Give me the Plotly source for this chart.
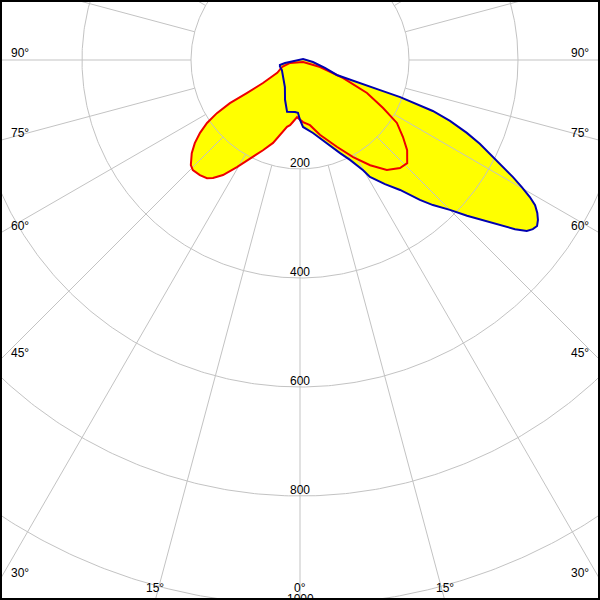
import numpy as np
import plotly.graph_objects as go

# Luminous intensity distribution (cd/klm), gamma angle in degrees (0 = straight down)
blue_gamma = [-70.7, -76.0, -78.7, -78.7, -90.0, 108.4, 81.3, 72.3, 67.9, 69.2, 69.4, 69.7, 69.4, 69.0,
              67.9, 66.4, 65.0, 63.3, 62.4, 61.2, 60.2, 59.2, 58.3, 57.2, 56.1, 55.0, 54.0, 53.0, 51.8,
              50.5, 48.8, 47.0, 45.0, 42.5, 40.6, 39.2, 37.6, 34.4, 30.9, 29.8, 26.6, 23.3, 18.0, 10.1,
              2.6, 0.0, -2.2, -5.5, -14.0, -20.6, -29.1, -45.0, -60.9, -70.7]
blue_cd = [39, 38, 28, 19, 6, 6, 24, 48, 73, 114, 157, 196, 235, 261, 297, 334, 364, 396, 420, 446,
           469, 491, 507, 518, 526, 531, 528, 521, 502, 476, 446, 419, 389, 361, 338, 320, 301, 276,
           250, 233, 205, 186, 160, 136, 123, 110, 97, 96, 98, 78, 57, 44, 38, 39]

red_gamma = [-68.7, -73.3, 56.3, 70.7, 67.3, 63.8, 60.0, 57.0, 53.2, 49.9, 46.1, 42.8, 38.3, 33.7,
             28.7, 23.0, 14.9, 8.7, 2.8, -3.0, -6.4, -8.7, -11.0, -13.9, -18.0, -22.3, -25.9, -27.9,
             -30.5, -33.8, -36.4, -38.2, -41.0, -44.2, -46.1, -49.3, -51.7, -53.9, -55.9, -57.4,
             -58.4, -58.1, -58.1, -60.5, -68.7]
red_cd = [35, 19, 7, 39, 86, 137, 176, 212, 236, 257, 273, 270, 257, 232, 203, 173, 142, 121, 114,
          105, 114, 121, 125, 138, 160, 179, 198, 208, 228, 254, 269, 276, 280, 282, 278, 262, 246,
          227, 206, 181, 151, 115, 80, 48, 35]

ring_values = [200, 400, 600, 800, 1000]
ring_labels = ["200", "400", "600", "800", "1000"]
angle_ticks = [90, 75, 60, 45, 30, 15, 0]
angle_labels = ["90°", "75°", "60°", "45°", "30°", "15°", "0°"]

W = H = 600
CX, CY = 300, 60          # pole position in pixels
SCALE = 0.545             # pixels per cd/klm

def to_xy(g, r):
    g = np.radians(np.asarray(g, float))
    r = np.asarray(r, float)
    return r * np.sin(g), -r * np.cos(g)

fig = go.Figure()

bx, by = to_xy(blue_gamma, blue_cd)
rx, ry = to_xy(red_gamma, red_cd)

# yellow fills
for x, y in [(bx, by), (rx, ry)]:
    fig.add_trace(go.Scatter(x=x, y=y, mode="lines", fill="toself", fillcolor="#ffff00",
                             line=dict(width=0, color="#ffff00"), hoverinfo="skip"))

GRID = "#c3c3c3"
t = np.linspace(0, 2 * np.pi, 721)
for rv in ring_values:
    fig.add_trace(go.Scatter(x=rv * np.cos(t), y=rv * np.sin(t), mode="lines",
                             line=dict(color=GRID, width=1), hoverinfo="skip"))
rmax = 1300
for a in range(0, 360, 15):
    xs, ys = to_xy([a, a], [ring_values[0], rmax])
    fig.add_trace(go.Scatter(x=xs, y=ys, mode="lines", line=dict(color=GRID, width=1),
                             hoverinfo="skip"))

# outlines
fig.add_trace(go.Scatter(x=rx, y=ry, mode="lines", line=dict(color="#ee0000", width=2),
                         hoverinfo="skip"))
fig.add_trace(go.Scatter(x=bx, y=by, mode="lines", line=dict(color="#0000b0", width=2),
                         hoverinfo="skip"))

FONT = dict(family="Liberation Sans, Arial, sans-serif", size=12, color="black")
ann = []
for rv, lab in zip(ring_values, ring_labels):
    py = CY + rv * SCALE - 6
    ann.append(dict(x=0.5, y=1 - py / H, xref="paper", yref="paper", text=lab, showarrow=False,
                    xanchor="center", yanchor="middle", font=FONT))

for a, lab in zip(angle_ticks, angle_labels):
    ar = np.radians(a)
    # where the ray leaves the frame
    if a == 90:
        yexit = CY
    else:
        yexit = CY + (W / 2) / np.tan(ar)
    if yexit <= H:
        py = yexit - 7
        ann.append(dict(x=9 / W, y=1 - py / H, xref="paper", yref="paper", text=lab,
                        showarrow=False, xanchor="left", yanchor="middle", font=FONT))
        ann.append(dict(x=1 - 9 / W, y=1 - py / H, xref="paper", yref="paper", text=lab,
                        showarrow=False, xanchor="right", yanchor="middle", font=FONT))
    else:
        xoff = (H - CY) * np.tan(ar)
        py = 588
        sides = [CX - xoff, CX + xoff] if a != 0 else [CX]
        for px in sides:
            ann.append(dict(x=px / W, y=1 - py / H, xref="paper", yref="paper", text=lab,
                            showarrow=False, xanchor="center", yanchor="middle", font=FONT))

fig.update_layout(
    width=W, height=H, margin=dict(l=0, r=0, t=0, b=0),
    paper_bgcolor="white", plot_bgcolor="white", showlegend=False,
    xaxis=dict(range=[-CX / SCALE, (W - CX) / SCALE], visible=False, fixedrange=True),
    yaxis=dict(range=[-(H - CY) / SCALE, CY / SCALE], visible=False, fixedrange=True),
    annotations=ann,
    shapes=[dict(type="rect", xref="paper", yref="paper", x0=0, y0=0, x1=1, y1=1,
                 line=dict(color="black", width=4))],
)

fig.write_html("out.html", config={"displayModeBar": False},
               post_script="document.body.style.margin='0';document.body.style.overflow='hidden';")
